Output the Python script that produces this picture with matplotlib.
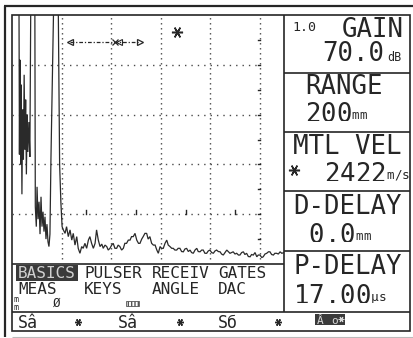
import matplotlib
matplotlib.use("Agg")
import matplotlib.pyplot as plt
from matplotlib.patches import Rectangle

plt.rcParams["mathtext.fontset"] = "custom"
plt.rcParams["mathtext.rm"] = "DejaVu Sans Mono"
plt.rcParams["mathtext.it"] = "DejaVu Sans Mono:italic"
plt.rcParams["mathtext.bf"] = "DejaVu Sans Mono:bold"

# ---- instrument readings ----
gain_step = "1.0"
gain_db = "70.0"
range_mm = "200"
velocity = "2422"
d_delay = "0.0"
p_delay = "17.00"

panel_titles = ["GAIN", "RANGE", "MTL VEL", "D-DELAY", "P-DELAY"]
menu_top = ["BASICS", "PULSER", "RECEIV", "GATES"]
menu_bottom = ["MEAS", "KEYS", "ANGLE", "DAC"]
softkeys = ["Sâ", "Sâ", "Sб"]

# ---- A-scan: sound path (mm) and amplitude (% screen height) ----
scan_mm = [
    2.8, 3.0, 3.2, 3.5, 3.7, 4.0, 4.3, 4.6, 4.9, 5.2, 5.5, 5.8, 6.1, 6.4, 6.8,
    7.2, 7.6, 9.2, 9.4, 9.8, 10.1, 10.5, 10.9, 11.3, 11.7, 12.1, 12.5, 12.9,
    13.3, 13.7, 14.1, 14.5, 14.9, 15.3, 15.7, 16.9, 18.6, 19.2, 19.7, 20.2,
    20.7, 21.4, 22.0, 22.7, 23.4, 24.1, 24.7, 25.4, 26.1, 26.7, 27.4, 28.1,
    28.7, 29.4, 30.1, 30.8, 31.4, 32.1, 32.8, 33.5, 34.1, 34.8, 35.5, 36.2,
    36.8, 37.5, 38.2, 38.8, 39.5, 40.2, 40.8, 41.5, 42.2, 42.8, 43.5, 44.2,
    44.9, 45.5, 46.2, 46.9, 47.6, 48.2, 48.9, 49.6, 50.3, 51.0, 51.6, 52.3,
    52.9, 53.6, 54.3, 54.9, 55.6, 56.3, 57.0, 57.7, 58.4, 59.0, 59.7, 60.3,
    61.0, 61.7, 62.4, 63.0, 63.7, 64.4, 65.0, 65.7, 66.4, 67.0, 67.7, 68.4,
    69.1, 69.7, 70.4, 71.1, 71.8, 72.4, 73.1, 73.8, 74.5, 75.1, 75.8, 76.5,
    77.1, 77.8, 78.5, 79.1, 79.8, 80.5, 81.2, 81.8, 82.5, 83.2, 83.9, 84.5,
    85.2, 85.9, 86.6, 87.2, 87.9, 88.6, 89.2, 89.9, 90.6, 91.3, 91.9, 92.6,
    93.3, 93.9, 94.6, 95.3, 96.0, 96.6, 97.3, 98.0, 98.7, 99.3, 100.0, 100.7,
    101.3, 102.0, 102.7, 103.4, 104.0, 104.7, 105.4, 106.0, 106.7, 107.4,
    108.1, 108.8, 109.7,
]
scan_amp = [
    110, 44, 82, 40, 72, 28, 62, 42, 76, 46, 66, 36, 60, 45, 57,
    43, 110, 110, 23, 15, 31, 18, 25, 12, 27, 15, 21, 13,
    19, 10, 16, 9, 7, 12, 42, 110, 110, 40, 25, 15,
    13.7, 12.3, 15.0, 11.0, 13.7, 9.6, 12.3, 7.6, 11.0, 6.3, 4.3, 7.0,
    6.3, 8.3, 6.3, 9.6, 11.0, 8.3, 6.3, 8.3, 13.7, 9.6, 7.0, 8.0,
    6.3, 7.6, 7.0, 5.6, 6.3, 7.6, 8.3, 6.3, 6.3, 7.6, 7.0, 5.6,
    6.3, 8.3, 8.3, 9.6, 9.6, 11.0, 11.0, 12.3, 9.6, 8.3, 8.3, 10.0,
    11.0, 12.3, 12.3, 10.0, 11.0, 8.3, 7.6, 7.6, 5.6, 4.3, 7.0, 6.3,
    6.3, 8.3, 9.6, 7.6, 7.0, 6.3, 6.3, 5.6, 5.6, 6.3, 6.3, 5.0,
    4.9, 6.0, 6.3, 5.0, 5.6, 4.6, 4.3, 5.6, 6.3, 5.0, 4.9, 5.6,
    5.6, 4.3, 4.3, 5.2, 5.6, 4.6, 4.3, 5.2, 5.6, 5.0, 4.9, 4.0,
    3.6, 4.6, 5.6, 5.0, 4.3, 4.6, 4.9, 4.0, 4.3, 3.6, 3.6, 4.6,
    4.9, 3.8, 4.3, 3.0, 2.9, 3.8, 3.6, 4.6, 2.9, 3.6, 3.6, 2.6,
    2.9, 4.0, 4.3, 4.9, 4.9, 3.8, 3.6, 4.3, 4.3, 4.0,
    4.9, 4.3, 4.6,
]

# gate bar and peak marker
gate_start_mm, gate_mid_mm, gate_end_mm, gate_level = 23.4, 41.7, 51.6, 89
peak_mm, peak_amp = 66.5, 93

W, H = 413, 338
INK = "#262626"
MONO = "DejaVu Sans Mono"

fig = plt.figure(figsize=(W / 100, H / 100), dpi=100)
fig.patch.set_facecolor("white")

# overlay in pixel units (y grows downward) for frames, panel and menus
ov = fig.add_axes([0, 0, 1, 1])
ov.set_xlim(0, W)
ov.set_ylim(H, 0)
ov.axis("off")


def hline(y, xa, xb, lw=1.2, color=INK):
    ov.plot([xa, xb], [y, y], color=color, lw=lw, solid_capstyle="butt")


def vline(x, ya, yb, lw=1.2, color=INK):
    ov.plot([x, x], [ya, yb], color=color, lw=lw, solid_capstyle="butt")


def lcd(x, y, s, size, ha="left", color=INK, **kw):
    ov.text(x, y, s, fontsize=size, family=MONO, ha=ha, va="baseline",
            color=color, **kw)


def unit(u):
    # small unit glyphs resting on the baseline of a large value
    return "$_{^{\\mathregular{" + u + "}}}$"


# outer bezel and screen frame
hline(6, 4, W, lw=1.6)
vline(5, 6, 337, lw=1.6)
hline(336.5, 12, W, lw=0.8, color="#bbbbbb")
ov.add_patch(Rectangle((12, 15), 398, 316, fill=False, ec=INK, lw=1.2))
hline(264, 12, 284)
hline(312, 12, 410)

# right-hand parameter panel
vline(284, 15, 312)
for yb in [73, 132, 191, 251]:
    hline(yb, 284, 410)

BIG = 18.5
lcd(292, 31, gain_step, 9.5)
lcd(404, 37, panel_titles[0], BIG, ha="right")
lcd(384, 61, gain_db, BIG, ha="right")
lcd(387, 61, "dB", 8.5)

# title over value (with unit), one block per box
lcd(305, 118, panel_titles[1] + "\n" + range_mm + unit("mm"), BIG,
    linespacing=0.887)
lcd(293, 178, panel_titles[2] + "\n  " + velocity + unit("m/s"), BIG,
    linespacing=0.887)
ov.plot([294], [170], marker=(6, 2, 30), ms=8, color=INK, mew=1.1)
lcd(293, 239, panel_titles[3] + "\n " + d_delay + unit("mm"), BIG,
    linespacing=0.927)
lcd(293, 299.5, panel_titles[4] + "\n" + p_delay + unit("µs"), BIG,
    linespacing=0.968)

# menu rows under the scan
ov.add_patch(Rectangle((16, 265), 62, 16, fc="#3a3a3a", ec="none"))
menu_x = [18, 84, 152, 218]
for i, (a, b) in enumerate(zip(menu_top, menu_bottom)):
    lcd(menu_x[i], 278.5, a, 11.5, color="#d0d0d0" if i == 0 else INK)
    lcd(menu_x[i], 294.5, b, 11.5)

# small status icons
lcd(14, 310.5, "m\nm", 6, linespacing=0.95)
lcd(53, 307, "Ø", 9)
ov.add_patch(Rectangle((126, 301), 13, 5, fc="white", ec="#555555", lw=0.6,
                       hatch="|||||"))

# soft-key row
for xk, s in zip([18, 118, 218], softkeys):
    lcd(xk, 328, s, 12)
for xs in [78, 180, 278]:
    ov.plot([xs], [322], marker=(6, 2, 30), ms=5, color=INK, mew=1.0)
ov.add_patch(Rectangle((315, 314), 30, 11, fc="#3a3a3a", ec="none"))
lcd(317, 324, "Â", 8, color="#d8d8d8")
lcd(331, 324, "o", 8, color="#d8d8d8")
ov.plot([341], [319], marker=(6, 2, 30), ms=4, color="#d8d8d8", mew=0.8)

# ---- A-scan axes ----
x0, x1, y0, y1 = 12, 284, 15, 264
div_px = 49.6
ax = fig.add_axes([x0 / W, 1 - y1 / H, (x1 - x0) / W, (y1 - y0) / H])
ax.set_xlim(0, (x1 - x0) / div_px * 20)
ax.set_ylim(0, 100)
ax.patch.set_alpha(0)
for sp in ax.spines.values():
    sp.set_visible(False)
ax.set_xticks([])
ax.set_yticks([])

grid_c = "#4a4a4a"
for gx in [20, 40, 60, 80, 100]:
    ax.plot([gx, gx], [0, 100], color=grid_c, lw=1.0,
            linestyle=(0, (1, 2.6)))
for gy in [20, 40, 60, 80]:
    ax.plot([0, 100], [gy, gy], color=grid_c, lw=1.0,
            linestyle=(0, (1, 3.6)))

# fine ruler marks on the 100 mm line and the 20 % line
for ry in [10, 20, 30, 40, 50, 60, 70, 80, 90]:
    ax.plot([99.0, 100.2], [ry, ry], color=INK, lw=1.0)
for rx in [30, 50, 70, 90]:
    ax.plot([rx, rx], [20, 21.6], color=INK, lw=1.0)

ax.plot(scan_mm, scan_amp, color="#2a2a2a", lw=0.9, solid_joinstyle="miter")

# gate
ax.plot([gate_start_mm, gate_end_mm], [gate_level, gate_level],
        color=INK, lw=0.9, linestyle=(0, (3, 1.5, 1, 1.5)))
ax.plot([gate_start_mm], [gate_level], marker="<", ms=5, mfc="none",
        mec=INK, mew=0.9)
ax.plot([gate_mid_mm], [gate_level], marker="x", ms=5, mec=INK, mew=0.9)
ax.plot([gate_mid_mm + 1.6], [gate_level], marker="<", ms=4, mfc="none",
        mec=INK, mew=0.8)
ax.plot([gate_end_mm], [gate_level], marker=">", ms=5, mfc="none",
        mec=INK, mew=0.9)
ax.plot([peak_mm], [peak_amp], marker=(6, 2, 30), ms=8, color=INK, mew=1.1)

fig.savefig("out.png", dpi=100, facecolor="white")
